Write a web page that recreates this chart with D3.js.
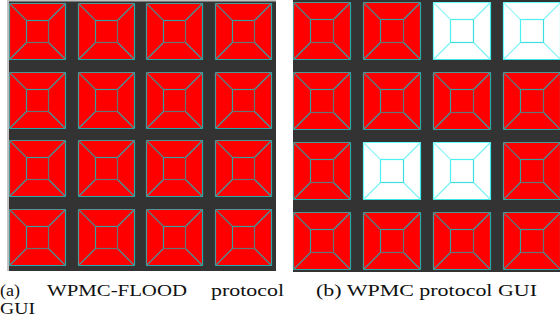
<!DOCTYPE html>
<html><head><meta charset="utf-8">
<script src="https://cdn.jsdelivr.net/npm/d3@7"></script>
<style>html,body{margin:0;padding:0;background:#fff;}svg{display:block;}</style>
</head><body>
<svg id="c" width="560" height="328"></svg>
<script>
// ---- data ----
const rows = [0, 1, 2, 3];
const cols = [0, 1, 2, 3];
// 1 = active (red), 0 = idle (white)
const stateA = [
  [1, 1, 1, 1],
  [1, 1, 1, 1],
  [1, 1, 1, 1],
  [1, 1, 1, 1]
];
const stateB = [
  [1, 1, 0, 0],
  [1, 1, 1, 1],
  [1, 0, 0, 1],
  [1, 1, 1, 1]
];
const captionA = ["(a)", "WPMC-FLOOD", "protocol", "GUI"];
const captionB = ["(b) WPMC protocol GUI"];

const svg = d3.select("#c");

const panels = [
  {state: stateA, x: [9.3, 272.3], y: [3.3, 266.3], pad: 0.166,
   frame: {x: 7, y: 0, w: 269, h: 271, light: true}},
  {state: stateB, x: [293.3, 561.3], y: [2.3, 270.3], pad: 0.163,
   frame: {x: 293, y: 0, w: 267, h: 272, light: false}}
];

panels.forEach(p => {
  const g = svg.append("g");
  if (p.frame.light) {
    g.append("rect").attr("x", p.frame.x).attr("y", p.frame.y)
      .attr("width", p.frame.w).attr("height", p.frame.h).attr("fill", "#c3c3c3");
    g.append("rect").attr("x", p.frame.x + 2).attr("y", p.frame.y + 1.5)
      .attr("width", p.frame.w - 2).attr("height", p.frame.h - 1.5).attr("fill", "#333333");
  } else {
    g.append("rect").attr("x", p.frame.x).attr("y", p.frame.y)
      .attr("width", p.frame.w).attr("height", p.frame.h).attr("fill", "#333333");
  }
  const xs = d3.scaleBand().domain(cols).range(p.x).paddingInner(p.pad).paddingOuter(0);
  const ys = d3.scaleBand().domain(rows).range(p.y).paddingInner(p.pad).paddingOuter(0);
  const cells = [];
  rows.forEach(r => cols.forEach(c => cells.push({r, c, v: p.state[r][c]})));
  const cg = g.selectAll("g.cell").data(cells).join("g").attr("class", "cell");
  cg.each(function(d) {
    const s = d3.select(this);
    const x0 = Math.round(xs(d.c)) + 0.5, y0 = Math.round(ys(d.r)) + 0.5;
    const w = Math.round(xs.bandwidth()) - 1, h = Math.round(ys.bandwidth()) - 1;
    const x1 = x0 + w, y1 = y0 + h;
    const m = Math.round(w * 0.3);
    const ix0 = x0 + m, iy0 = y0 + m, ix1 = x1 - m, iy1 = y1 - m;
    const red = d.v === 1;
    s.append("rect").attr("x", x0).attr("y", y0).attr("width", w).attr("height", h)
      .attr("fill", red ? "#ff0000" : "#ffffff");
    const cOut = red ? "#2aa8a8" : "#3fe6e6";
    const cOutHi = red ? "#4d9797" : "#66ffff";
    const cDiag = red ? "#3f9999" : "#7ff3f3";
    const cDiagD = red ? "#567f7f" : "#99f5f5";
    const cIn = red ? "#369f9f" : "#4cf0f0";
    const cInD = red ? "#637676" : "#3fdede";
    const segs = [
      [x0, y0, x1, y0, cOutHi], [x0, y0, x0, y1, cOutHi],
      [x0, y1, x1, y1, cOut], [x1, y0, x1, y1, cOut],
      [x0, y0, ix0, iy0, cDiagD], [x1, y0, ix1, iy0, cDiag],
      [x0, y1, ix0, iy1, cDiag], [x1, y1, ix1, iy1, cDiag],
      [ix0, iy0, ix1, iy0, cIn], [ix0, iy0, ix0, iy1, cIn],
      [ix0, iy1, ix1, iy1, cInD], [ix1, iy0, ix1, iy1, cInD]
    ];
    s.selectAll("line").data(segs).join("line")
      .attr("x1", e => e[0]).attr("y1", e => e[1])
      .attr("x2", e => e[2]).attr("y2", e => e[3])
      .attr("stroke", e => e[4]).attr("stroke-width", 1.2);
  });
});

// captions
const font = "'Liberation Serif','Times New Roman',serif";
const capA = [
  {t: captionA[0], x: 0, y: 296, w: 20},
  {t: captionA[1], x: 47, y: 296, w: 140},
  {t: captionA[2], x: 211, y: 296, w: 73},
  {t: captionA[3], x: 0, y: 314, w: 35}
];
svg.append("g").selectAll("text").data(capA).join("text")
  .attr("x", d => d.x).attr("y", d => d.y)
  .attr("textLength", d => d.w).attr("lengthAdjust", "spacingAndGlyphs")
  .style("font-family", font).style("font-size", "17px").attr("fill", "#111")
  .text(d => d.t);
svg.append("text").attr("x", 316).attr("y", 296)
  .attr("textLength", 221).attr("lengthAdjust", "spacingAndGlyphs")
  .style("font-family", font).style("font-size", "17px").attr("fill", "#111")
  .text(captionB[0]);
</script>
</body></html>
